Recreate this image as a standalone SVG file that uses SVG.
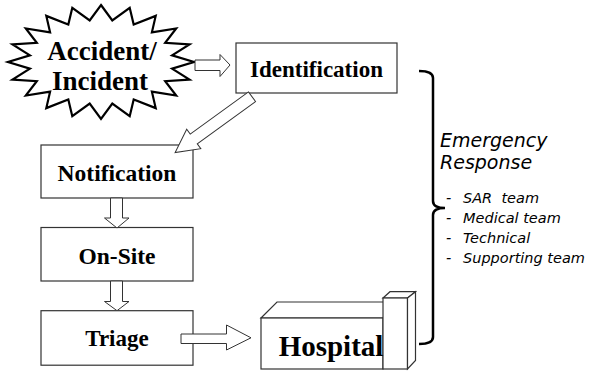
<svg xmlns="http://www.w3.org/2000/svg" width="591" height="379" viewBox="0 0 591 379">
<style>
.box{fill:#fff;stroke:#333;stroke-width:1.2}
.arr{fill:#fff;stroke:#333;stroke-width:1}
.lbl{font-family:"Liberation Serif","Times New Roman",serif;font-weight:bold;fill:#000;text-anchor:middle}
.it{font-family:"DejaVu Sans",Verdana,sans-serif;font-style:italic;fill:#000;white-space:pre}
</style>
<rect width="591" height="379" fill="#fff"/>
<g id="accident">
<polygon points="101,5 112.3,20.5 129.7,7.8 133.7,24.6 155.7,15.9 151.9,32.3 176.2,28.5 165.2,42.9 189.5,44.4 172.1,55.4 194,62 172.1,68.6 189.5,79.6 165.2,81.1 176.2,95.5 151.9,91.7 155.7,108.1 133.7,99.4 129.7,116.2 112.3,103.5 101,119 89.7,103.5 72.3,116.2 68.3,99.4 46.3,108.1 50.1,91.7 25.8,95.5 36.8,81.1 12.5,79.6 29.9,68.6 8,62 29.9,55.4 12.5,44.4 36.8,42.9 25.8,28.5 50.1,32.3 46.3,15.9 68.3,24.6 72.3,7.8 89.7,20.5" fill="#fff" stroke="#000" stroke-width="2.2" stroke-linejoin="miter"/>
<text class="lbl" x="102" y="60" font-size="27">Accident/</text>
<text class="lbl" x="100" y="90" font-size="27">Incident</text>
</g>
<g id="identification">
<rect class="box" x="236" y="43" width="161" height="50"/>
<text class="lbl" x="316.5" y="77" font-size="23">Identification</text>
</g>
<g id="notification">
<rect class="box" x="41" y="145" width="152" height="53"/>
<text class="lbl" x="117" y="181" font-size="23.5">Notification</text>
</g>
<g id="onsite">
<rect class="box" x="41" y="227.5" width="152" height="53.5"/>
<text class="lbl" x="117" y="263.5" font-size="23.5">On-Site</text>
</g>
<g id="triage">
<rect class="box" x="41" y="310.7" width="152" height="54.5"/>
<text class="lbl" x="117" y="346" font-size="23">Triage</text>
</g>
<g id="hospital">
<polygon class="box" points="261,318 277,302 390,302 383,318"/>
<rect class="box" x="261" y="318" width="122" height="51"/>
<polygon class="box" points="383,298 390,291.7 415.5,291.7 407.5,298"/>
<rect class="box" x="383" y="298" width="24.5" height="71"/>
<polygon class="box" points="407.5,298 415.5,291.7 415.5,360.5 407.5,369"/>
<text class="lbl" x="331" y="356" font-size="29">Hospital</text>
</g>
<g id="emergency">
<text class="it" x="440" y="147" font-size="19">Emergency</text>
<text class="it" x="440" y="168.5" font-size="19">Response</text>
<g font-size="14.5">
<text class="it" x="446" y="203">-</text><text class="it" x="463" y="203">SAR  team</text>
<text class="it" x="446" y="223">-</text><text class="it" x="463" y="223">Medical team</text>
<text class="it" x="446" y="243">-</text><text class="it" x="463" y="243">Technical</text>
<text class="it" x="446" y="263">-</text><text class="it" x="463" y="263">Supporting team</text>
</g>
</g>
<g id="connectors">
<path class="arr" d="M195,60 L220,60 L220,54.5 L230,65 L220,76.5 L220,70.5 L195,70.5 Z"/>
<path class="arr" transform="translate(252,96.7) rotate(144)" d="M0,-6 L72,-6 L72,-12 L95,0 L72,12 L72,6 L0,6 Z"/>
<path class="arr" d="M110.5,198 L122.5,198 L122.5,218 L129,218 L117,228 L104.5,218 L110.5,218 Z"/>
<path class="arr" d="M110.5,281 L122.5,281 L122.5,301.5 L129,301.5 L117,310.7 L104.5,301.5 L110.5,301.5 Z"/>
<path class="arr" d="M181,334 L226.5,334 L226.5,325 L251,337.8 L226.5,350 L226.5,343.5 L181,343.5 Z"/>
<path d="M419,71 Q433,71 433,78 L433,201 Q433,208 445,208 Q433,208 433,215 L433,337 Q433,344 419,344" fill="none" stroke="#000" stroke-width="2.5"/>
</g>
</svg>
